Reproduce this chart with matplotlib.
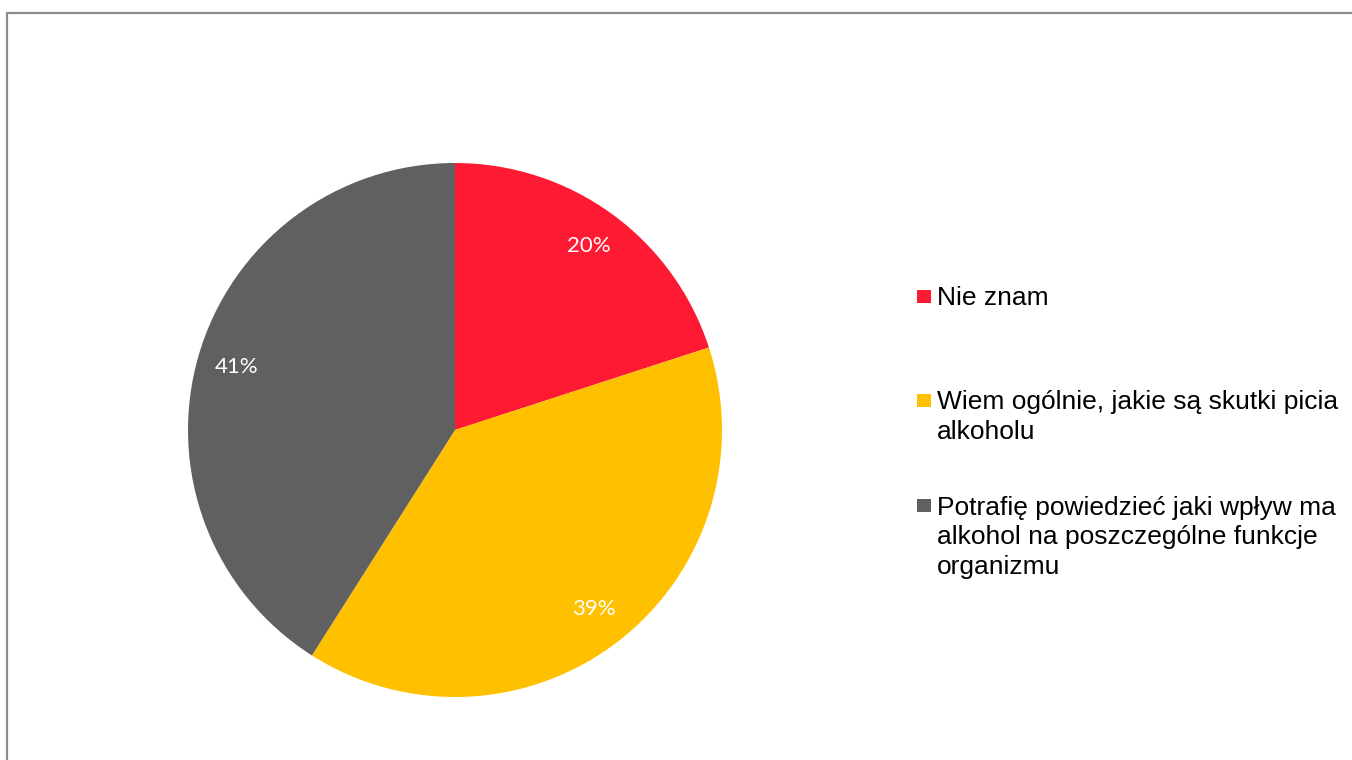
import matplotlib
matplotlib.use("Agg")
import matplotlib.pyplot as plt
from matplotlib.patches import Rectangle

# dane
labels = [
    "Nie znam",
    "Wiem ogólnie, jakie są skutki picia\nalkoholu",
    "Potrafię powiedzieć jaki wpływ ma\nalkohol na poszczególne funkcje\norganizmu",
]
values = [20, 39, 41]
colors = ["#FF1A33", "#FFC000", "#606060"]

W, H = 1352, 760
fig = plt.figure(figsize=(W / 100, H / 100), dpi=100)

# ramka wykresu
fig.patches.append(Rectangle((6.5 / W, -0.5), 2.0, (H - 12.5) / H + 0.5,
                             transform=fig.transFigure, fill=False,
                             edgecolor="#8C8C8C", linewidth=1.6))

# kolo
cx, cy, r = 455, 430, 267
ax = fig.add_axes([(cx - r) / W, (H - cy - r) / H, 2 * r / W, 2 * r / H])
wedges, texts, autotexts = ax.pie(
    values, colors=colors, startangle=90, counterclock=False,
    autopct="%1.0f%%", pctdistance=0.85, radius=1,
    wedgeprops=dict(linewidth=0),
    textprops=dict(color="white", fontsize=16, family=["Lato", "DejaVu Sans"]),
)
ax.set_xlim(-1, 1)
ax.set_ylim(-1, 1)
ax.set_aspect("equal")
ax.axis("off")

# legenda (baseline w matplotlib liczy sie od ostatniej linii)
baselines = [305, 409, 514]
line_h = 30
for lab, col, yb in zip(labels, colors, baselines):
    n = lab.count("\n")
    fig.patches.append(Rectangle((917 / W, (H - yb + 2) / H), 13.5 / W, 13.5 / H,
                                 transform=fig.transFigure, facecolor=col,
                                 edgecolor="none"))
    fig.text(937 / W, (H - yb - n * line_h) / H, lab, fontsize=19, va="baseline",
             ha="left", family=["Liberation Sans", "DejaVu Sans"],
             linespacing=1.29, color="black")

fig.savefig("out.png", dpi=100)
